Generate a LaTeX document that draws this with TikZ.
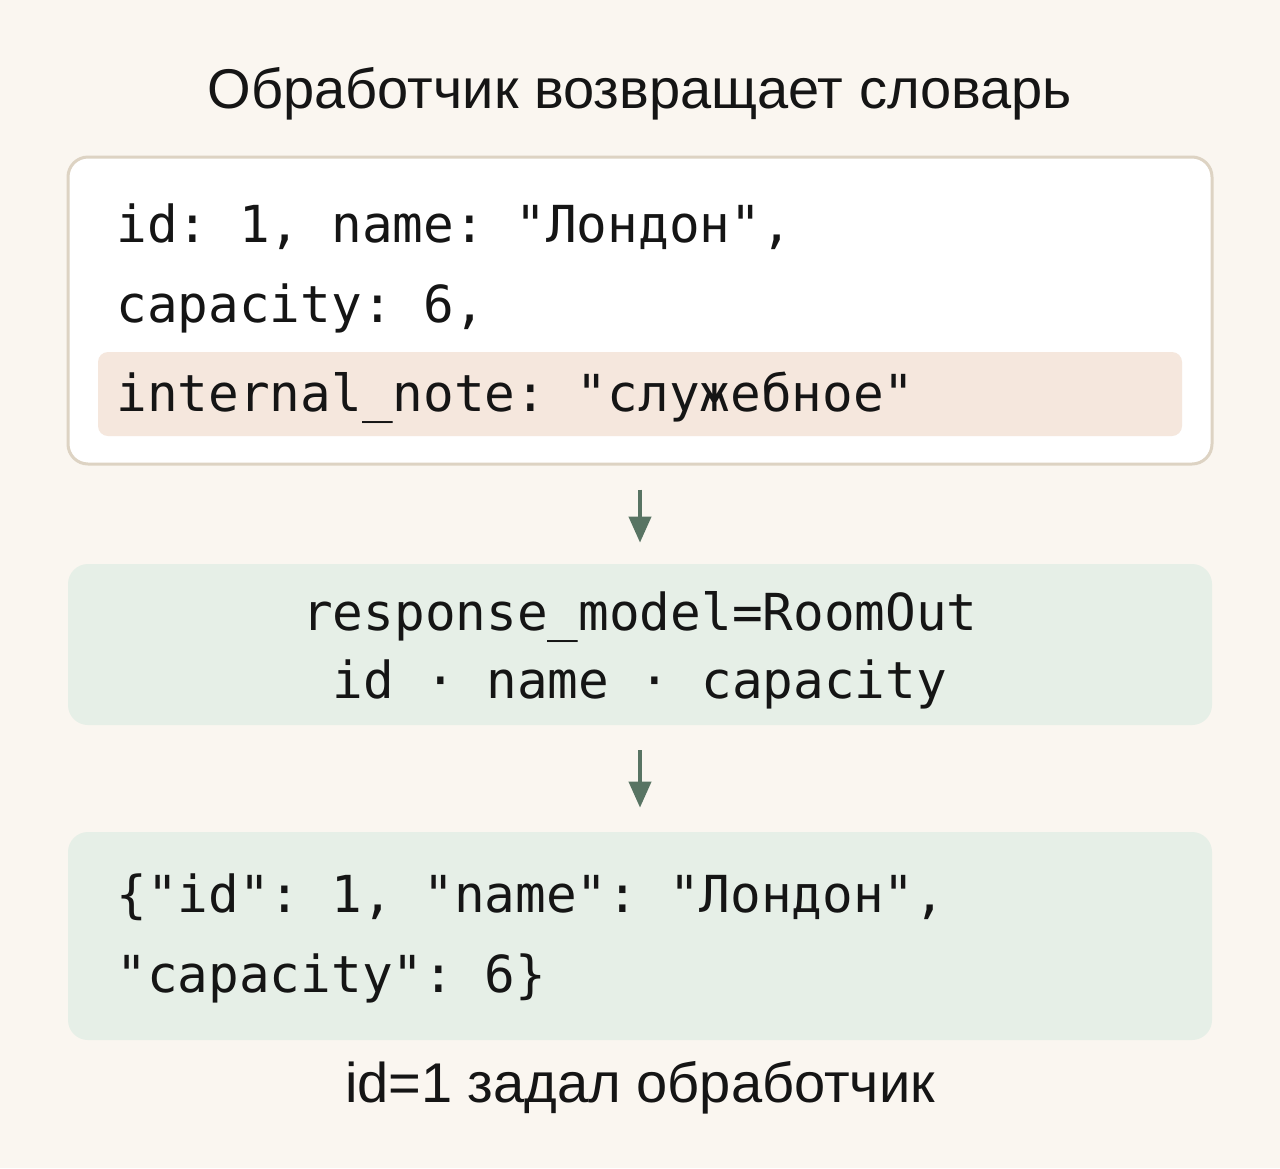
\documentclass[tikz,border=0pt]{standalone}
\usepackage{fontspec}
\setmainfont{Liberation Sans}
\newfontfamily\codefont{DejaVu Sans Mono}
\usetikzlibrary{arrows.meta}
\definecolor{bgcol}{HTML}{FAF6F0}
\definecolor{framecol}{HTML}{DDD3C3}
\definecolor{notecol}{HTML}{F5E7DD}
\definecolor{modelcol}{HTML}{E6EFE7}
\definecolor{arrowcol}{HTML}{587463}
\definecolor{inkcol}{HTML}{151515}
\tikzset{
    panel/.style={rectangle, rounded corners=10pt, minimum width=572pt, inner sep=0pt},
    codeline/.style={anchor=base west, inner sep=0pt, text=inkcol, font=\codefont\frenchspacing\fontsize{25.5}{30}\selectfont},
    codemid/.style={codeline, anchor=base},
    caption/.style={anchor=base, inner sep=0pt, text=inkcol, font=\fontsize{28}{34}\selectfont},
    flow/.style={draw=arrowcol, line width=2pt, -{Triangle[length=13pt,width=11pt]}}
}
\begin{document}
\begin{tikzpicture}[x=0.5pt,y=-0.5pt]
        % Background and page size
        \fill[bgcol] (0,0) rectangle (1280,1168);
        \useasboundingbox (0,0) rectangle (1280,1168);

        % Title
        \node[caption] (title) at (640,108) {Обработчик возвращает словарь};

        % The three panels
        \node[panel, fill=white, draw=framecol, line width=1.5pt, minimum height=153.5pt] (dict) at (640,310.5) {};
        \node[panel, fill=notecol, rounded corners=5pt, minimum width=542pt, minimum height=42pt] (note) at (640,394) {};
        \node[panel, fill=modelcol, minimum height=80.5pt] (model) at (640,644.5) {};
        \node[panel, fill=modelcol, minimum height=104pt] (json) at (640,936) {};

        % Lines of code
        \foreach \y/\name/\txt in {242/d1/{id: 1, name: "Лондон",}, 322/d2/{capacity: 6,},
                411/d3/{internal\_note: "служебное"}, 912/j1/{\{"id": 1, "name": "Лондон",},
                992/j2/{"capacity": 6\}}} {
            \node[codeline] (\name) at (116,\y) {\txt};
        }
        \node[codemid] (m1) at (640,630) {response\_model=RoomOut};
        \node[codemid] (m2) at (640,698) {id · name · capacity};

        % Caption
        \node[caption] (note2) at (640,1102) {id=1 задал обработчик};

        % Arrows between panels
        \draw[flow, shorten <=12pt, shorten >=10.5pt] (dict.south) -- (model.north);
        \draw[flow, shorten <=12.5pt, shorten >=12pt] (model.south) -- (json.north);
\end{tikzpicture}
\end{document}
